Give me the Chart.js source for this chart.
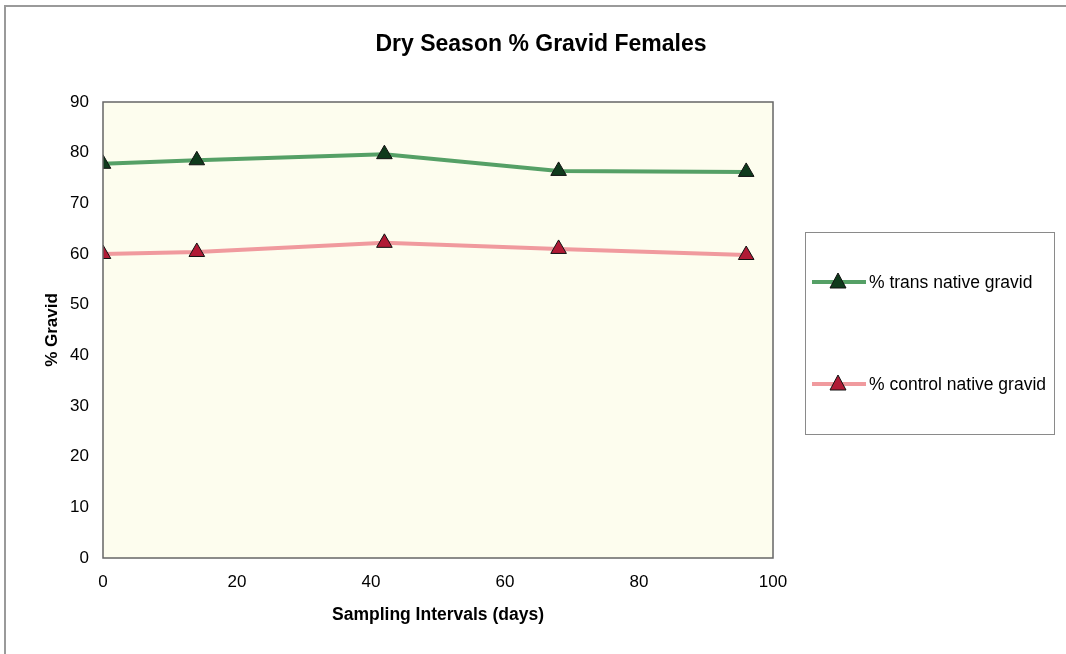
<!DOCTYPE html>
<html>
<head>
<meta charset="utf-8">
<script src="https://cdn.jsdelivr.net/npm/chart.js@4/dist/chart.umd.min.js"></script>
<style>
  html, body { margin: 0; padding: 0; background: #fff; }
  #wrap { width: 1066px; height: 654px; position: relative; }
</style>
</head>
<body>
<div id="wrap"><canvas id="myChart" width="1066" height="654"></canvas></div>
<script>
const days = [0, 14, 42, 68, 96];
const transGravid = [77.8, 78.5, 79.7, 76.4, 76.2];
const controlGravid = [60.0, 60.4, 62.2, 61.0, 59.8];
const seriesNames = ['% trans native gravid', '% control native gravid'];
const chartTitle = 'Dry Season % Gravid Females';

const FONT = "'Liberation Sans', Arial, sans-serif";
const ctx = document.getElementById('myChart');

const toPoints = vals => vals.map((v, i) => ({ x: days[i], y: v }));

// plot background, outer frame, title and the boxed legend on the right
const decor = {
  id: 'decor',
  beforeDraw(chart) {
    const c = chart.ctx, a = chart.chartArea;
    c.save();
    c.fillStyle = '#fdfdee';
    c.fillRect(a.left, a.top, a.right - a.left, a.bottom - a.top);
    c.strokeStyle = '#9a9a9a';
    c.lineWidth = 2;
    c.beginPath();
    c.moveTo(5, 654);
    c.lineTo(5, 6);
    c.lineTo(1066, 6);
    c.stroke();
    c.fillStyle = '#000';
    c.font = 'bold 23px ' + FONT;
    c.textAlign = 'center';
    c.textBaseline = 'middle';
    c.fillText(chartTitle, 541, 45);
    c.restore();
  },
  afterDraw(chart) {
    const c = chart.ctx, a = chart.chartArea;
    c.save();
    c.strokeStyle = '#666';
    c.lineWidth = 1.5;
    c.strokeRect(a.left, a.top, a.right - a.left, a.bottom - a.top);

    c.strokeStyle = '#8a8a8a';
    c.lineWidth = 1;
    c.strokeRect(805.5, 232.5, 249, 202);
    const rows = [282, 384];
    chart.data.datasets.forEach((ds, i) => {
      const y = rows[i];
      c.strokeStyle = ds.borderColor;
      c.lineWidth = 4;
      c.beginPath();
      c.moveTo(812, y);
      c.lineTo(866, y);
      c.stroke();
      c.fillStyle = ds.pointBackgroundColor;
      c.strokeStyle = '#111';
      c.lineWidth = 1;
      c.beginPath();
      c.moveTo(838, y - 9);
      c.lineTo(846, y + 6);
      c.lineTo(830, y + 6);
      c.closePath();
      c.fill();
      c.stroke();
      c.fillStyle = '#000';
      c.font = '17.5px ' + FONT;
      c.textBaseline = 'middle';
      c.fillText(ds.label, 869, y + 1);
    });
    c.restore();
  }
};

const data = {
  datasets: [{
    label: seriesNames[0],
    data: toPoints(transGravid),
    borderColor: '#55a066',
    pointBackgroundColor: '#0f3a1c',
    pointBorderColor: '#111',
    borderWidth: 4,
    pointStyle: 'triangle',
    pointRadius: 9,
    pointBorderWidth: 1,
    tension: 0
  }, {
    label: seriesNames[1],
    data: toPoints(controlGravid),
    borderColor: '#f09a9e',
    pointBackgroundColor: '#b01a35',
    pointBorderColor: '#111',
    borderWidth: 4,
    pointStyle: 'triangle',
    pointRadius: 9,
    pointBorderWidth: 1,
    tension: 0
  }]
};

const config = {
  type: 'line',
  data: data,
  plugins: [decor],
  options: {
    responsive: false,
    animation: false,
    layout: { padding: { left: 38, right: 293, top: 102, bottom: 24 } },
    plugins: {
      legend: { display: false },
      tooltip: { enabled: false },
      title: { display: false }
    },
    scales: {
      x: {
        type: 'linear',
        min: 0, max: 100,
        ticks: { stepSize: 20, color: '#000', font: { family: FONT, size: 17 }, padding: 8 },
        grid: { display: false, drawTicks: true, tickLength: 6, tickColor: '#666' },
        border: { display: false },
        title: {
          display: true,
          text: 'Sampling Intervals (days)',
          color: '#000',
          font: { family: FONT, size: 17.5, weight: 'bold' },
          padding: { top: 10 }
        },
        afterFit(scale) { scale.height = 72; }
      },
      y: {
        min: 0, max: 90,
        ticks: { stepSize: 10, color: '#000', font: { family: FONT, size: 17 }, padding: 8 },
        grid: { display: false, drawTicks: true, tickLength: 6, tickColor: '#666' },
        border: { display: false },
        title: {
          display: true,
          text: '% Gravid',
          color: '#000',
          font: { family: FONT, size: 17, weight: 'bold' },
          padding: { bottom: 2 }
        },
        afterFit(scale) { scale.width = 65; }
      }
    }
  }
};

const lineChart = new Chart(ctx, config);
</script>
</body>
</html>
